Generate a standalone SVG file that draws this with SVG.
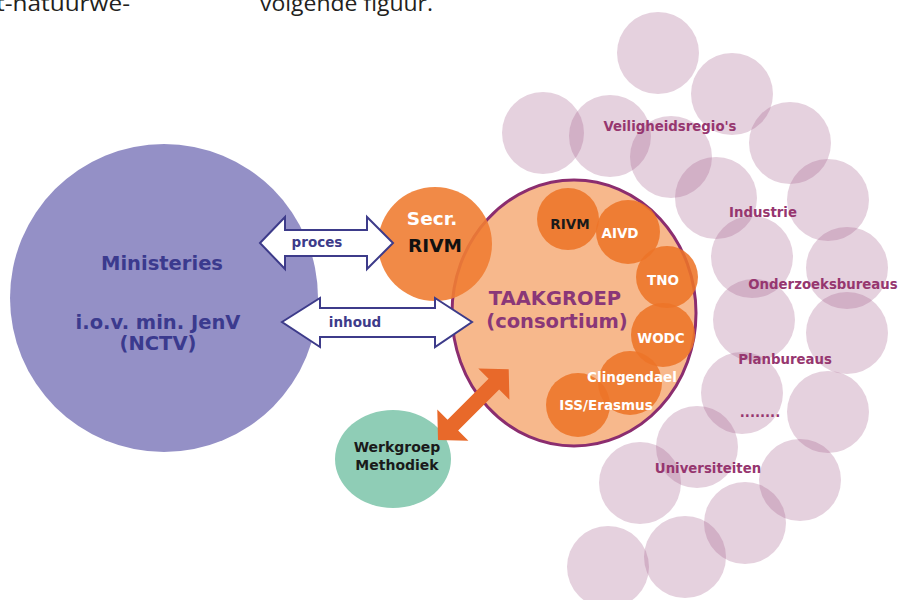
<svg xmlns="http://www.w3.org/2000/svg" width="898" height="600" viewBox="0 0 898 600">
<style>
  .b { font-family: "DejaVu Sans", Verdana, sans-serif; font-weight: bold; text-anchor: middle; }
  .pink { fill: #A05A8A; fill-opacity: 0.28; }
  .plabel { font-size: 13.3px; fill: #96366F; }
  .inner { fill: #ED7428; fill-opacity: 0.88; }
  .ilabel { font-size: 13.5px; fill: #ffffff; }
  .block { fill: #ffffff; stroke: #3D3B8A; stroke-width: 2; stroke-linejoin: miter; }
  .alabel { font-size: 13.5px; fill: #3D3B8A; }
  .body { font-family: "Open Sans", "Noto Sans", sans-serif; font-size: 22px; fill: #231F20; }
</style>
<rect width="898" height="600" fill="#ffffff"/>

<text class="body" x="-4" y="11" textLength="134" lengthAdjust="spacingAndGlyphs">t-natuurwe-</text>
<text class="body" x="260" y="11" textLength="173" lengthAdjust="spacingAndGlyphs">volgende figuur.</text>

<g id="buitenring">
  <circle class="pink" cx="658" cy="53" r="41"/>
  <circle class="pink" cx="732" cy="94" r="41"/>
  <circle class="pink" cx="543" cy="133" r="41"/>
  <circle class="pink" cx="610" cy="136" r="41"/>
  <circle class="pink" cx="671" cy="157" r="41"/>
  <circle class="pink" cx="790" cy="143" r="41"/>
  <circle class="pink" cx="716" cy="198" r="41"/>
  <circle class="pink" cx="828" cy="200" r="41"/>
  <circle class="pink" cx="752" cy="257" r="41"/>
  <circle class="pink" cx="847" cy="268" r="41"/>
  <circle class="pink" cx="754" cy="320" r="41"/>
  <circle class="pink" cx="847" cy="333" r="41"/>
  <circle class="pink" cx="742" cy="393" r="41"/>
  <circle class="pink" cx="828" cy="412" r="41"/>
  <circle class="pink" cx="697" cy="447" r="41"/>
  <circle class="pink" cx="800" cy="480" r="41"/>
  <circle class="pink" cx="640" cy="483" r="41"/>
  <circle class="pink" cx="745" cy="523" r="41"/>
  <circle class="pink" cx="685" cy="557" r="41"/>
  <circle class="pink" cx="608" cy="567" r="41"/>
  <text class="b plabel" x="670" y="131">Veiligheidsregio's</text>
  <text class="b plabel" x="763" y="217">Industrie</text>
  <text class="b plabel" x="823" y="289">Onderzoeksbureaus</text>
  <text class="b plabel" x="785" y="364">Planbureaus</text>
  <text class="b plabel" x="760" y="417">........</text>
  <text class="b plabel" x="708" y="473">Universiteiten</text>
</g>

<g id="ministeries">
  <circle cx="164" cy="298" r="154" fill="#9490C6"/>
  <text class="b" x="162" y="270" font-size="19.5" fill="#3B3A8E">Ministeries</text>
  <text class="b" x="158" y="329" font-size="19.5" fill="#3B3A8E">i.o.v. min. JenV</text>
  <text class="b" x="158" y="350" font-size="19.5" fill="#3B3A8E">(NCTV)</text>
</g>

<g id="taakgroep">
  <ellipse cx="574" cy="313" rx="122" ry="133" fill="#F7B88C" stroke="#8B2D6F" stroke-width="3"/>
  <text class="b" x="555" y="305" font-size="19.5" fill="#8A3778">TAAKGROEP</text>
  <text class="b" x="557" y="328" font-size="19.5" fill="#8A3778">(consortium)</text>
</g>

<g id="leden">
  <circle class="inner" cx="568" cy="219" r="31"/>
  <circle class="inner" cx="628" cy="232" r="32"/>
  <circle class="inner" cx="667" cy="277" r="31"/>
  <circle class="inner" cx="663" cy="335" r="32"/>
  <circle class="inner" cx="630" cy="383" r="32"/>
  <circle class="inner" cx="578" cy="405" r="32"/>
  <text class="b ilabel" x="570" y="229" fill="#1a1a1a" style="fill:#1a1a1a">RIVM</text>
  <text class="b ilabel" x="620" y="238">AIVD</text>
  <text class="b ilabel" x="663" y="285">TNO</text>
  <text class="b ilabel" x="661" y="343">WODC</text>
  <text class="b ilabel" x="632" y="382">Clingendael</text>
  <text class="b ilabel" x="606" y="410">ISS/Erasmus</text>
</g>

<g id="secretariaat">
  <circle cx="435" cy="244" r="57" fill="#EF7D33" fill-opacity="0.9"/>
  <text class="b" x="432" y="225" font-size="18.5" fill="#ffffff">Secr.</text>
  <text class="b" x="435" y="252" font-size="18.5" fill="#111111">RIVM</text>
</g>

<g id="werkgroep">
  <ellipse cx="393" cy="459" rx="58" ry="49" fill="#8FCDB6"/>
  <text class="b" x="397" y="452" font-size="14" fill="#1a1a1a">Werkgroep</text>
  <text class="b" x="397" y="470" font-size="14" fill="#1a1a1a">Methodiek</text>
</g>

<g id="connectors">
  <g id="proces">
    <polygon class="block" points="260,243 285,217 285,230 367,230 367,217 393,243 367,269 367,256 285,256 285,269"/>
    <text class="b alabel" x="317" y="247">proces</text>
  </g>
  <g id="inhoud">
    <polygon class="block" points="282,322 320,298 320,308 435,308 435,298 472,322 435,347 435,337 320,337 320,347"/>
    <text class="b alabel" x="355" y="327">inhoud</text>
  </g>
  <polygon id="methodiek-pijl" transform="translate(438,440) rotate(-45)" fill="#E8692A" points="0,0 21,-22 21,-7.5 79,-7.5 79,-22 100,0 79,22 79,7.5 21,7.5 21,22"/>
</g>
</svg>
